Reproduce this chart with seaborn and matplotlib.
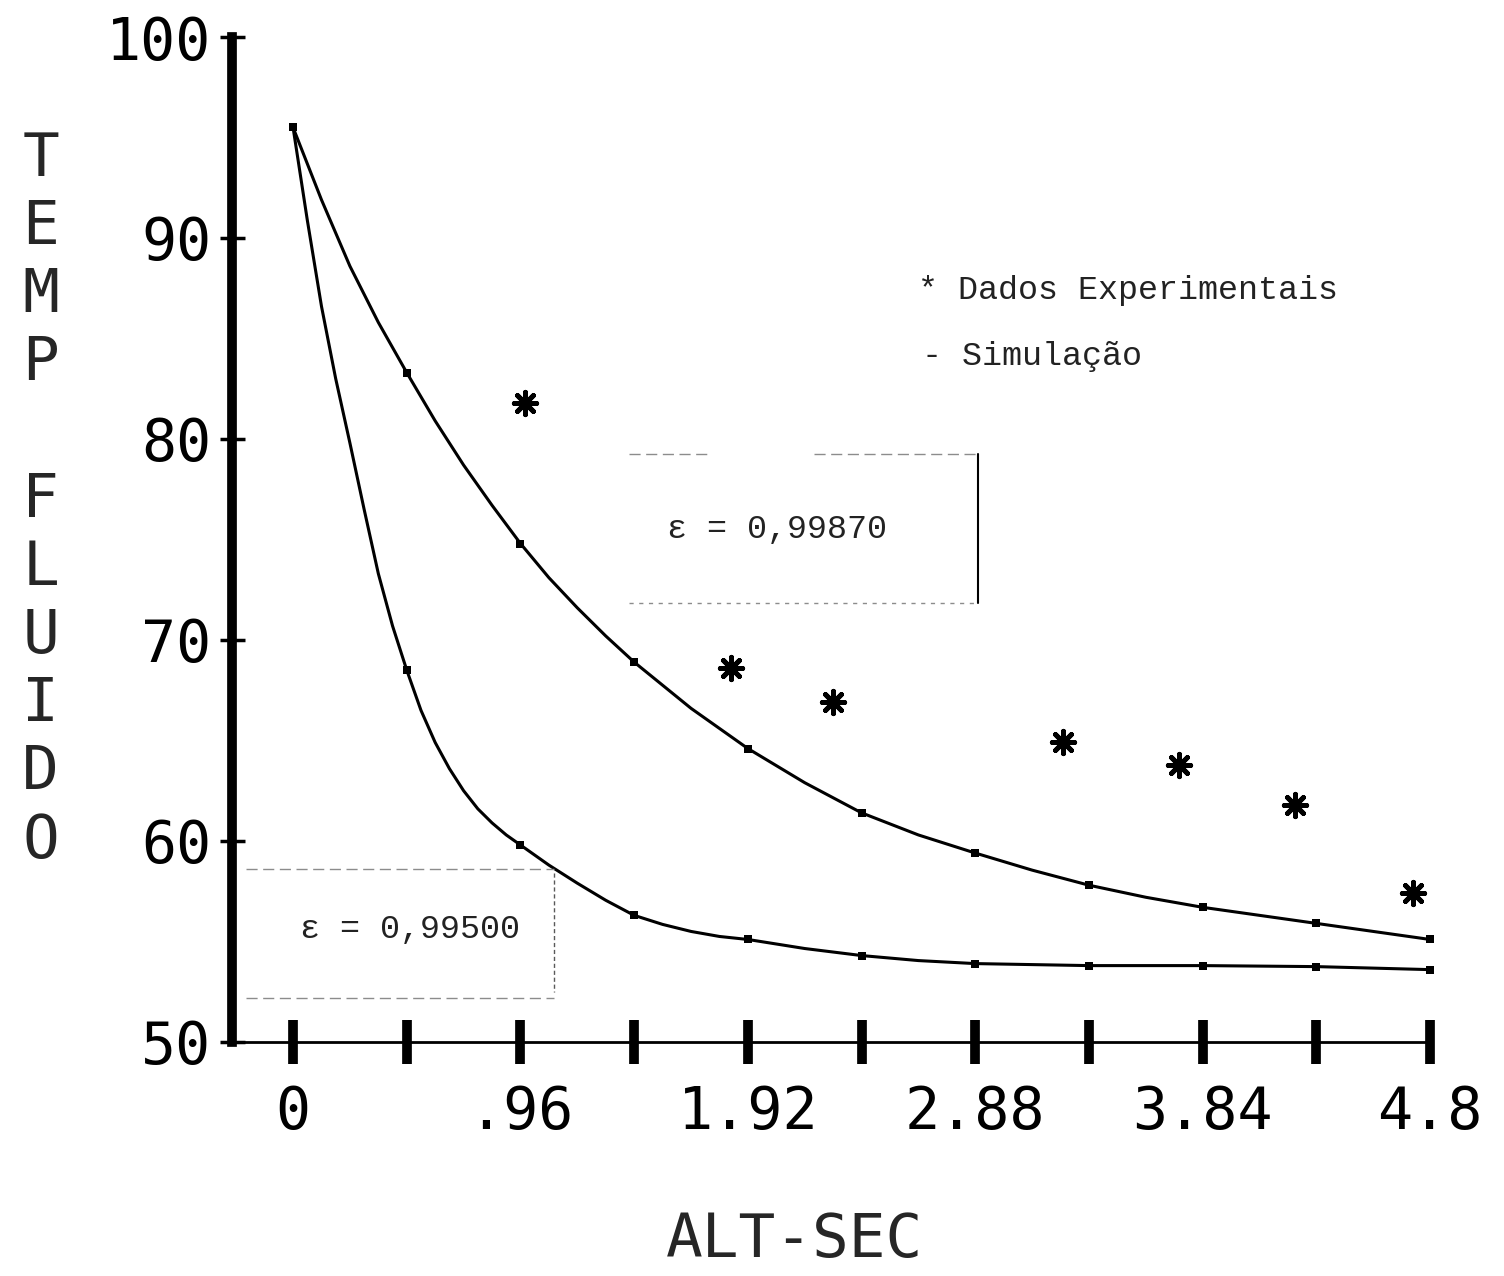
import numpy as np
import pandas as pd
import seaborn as sns
import matplotlib.pyplot as plt

# pontos marcados das simulações (a cada 0.48 de ALT-SEC)
sim_x = [0, 0.48, 0.96, 1.44, 1.92, 2.40, 2.88, 3.36, 3.84, 4.32, 4.80]
sim_99870 = [95.5, 83.3, 74.8, 68.9, 64.6, 61.4, 59.4, 57.8, 56.7, 55.9, 55.1]
sim_99500 = [95.5, 68.5, 59.8, 56.3, 55.1, 54.3, 53.9, 53.8, 53.8, 53.75, 53.6]

# traçado das curvas (com pontos intermediários)
curva_99870_x = [0, 0.12, 0.24, 0.36, 0.48, 0.60, 0.72, 0.84, 0.96, 1.08, 1.20,
                 1.32, 1.44, 1.68, 1.92, 2.16, 2.40, 2.64, 2.88, 3.12, 3.36,
                 3.60, 3.84, 4.08, 4.32, 4.56, 4.80]
curva_99870_y = [95.5, 91.9, 88.6, 85.8, 83.3, 80.9, 78.7, 76.7, 74.8, 73.1, 71.6,
                 70.2, 68.9, 66.6, 64.6, 62.9, 61.4, 60.3, 59.4, 58.55, 57.8,
                 57.2, 56.7, 56.3, 55.9, 55.5, 55.1]
curva_99500_x = [0, 0.06, 0.12, 0.18, 0.24, 0.30, 0.36, 0.42, 0.48, 0.54, 0.60,
                 0.66, 0.72, 0.78, 0.84, 0.90, 0.96, 1.08, 1.20, 1.32, 1.44,
                 1.56, 1.68, 1.80, 1.92, 2.16, 2.40, 2.64, 2.88, 3.36, 3.84,
                 4.32, 4.80]
curva_99500_y = [95.5, 90.9, 86.6, 83.0, 79.8, 76.5, 73.3, 70.7, 68.5, 66.5, 64.9,
                 63.6, 62.5, 61.6, 60.9, 60.3, 59.8, 58.8, 57.9, 57.05, 56.3,
                 55.85, 55.5, 55.25, 55.1, 54.65, 54.3, 54.05, 53.9, 53.8, 53.8,
                 53.75, 53.6]

# dados experimentais
exp_x = [0.98, 1.85, 2.28, 3.25, 3.74, 4.23, 4.73]
exp_y = [81.8, 68.6, 66.9, 64.9, 63.8, 61.8, 57.4]

x_ticks = [0, 0.48, 0.96, 1.44, 1.92, 2.40, 2.88, 3.36, 3.84, 4.32, 4.80]
x_labels = ['0', '', '.96', '', '1.92', '', '2.88', '', '3.84', '', '4.8']
y_ticks = [50, 60, 70, 80, 90, 100]

sns.set_style("white")
plt.rcParams['font.family'] = ['DejaVu Sans Mono', 'DejaVu Sans']

fig = plt.figure(figsize=(15.04, 12.76), dpi=100)
ax = fig.add_axes([0.1543, 0.1834, 0.7979, 0.7876])

# curvas de simulação
for cx, cy in [(curva_99870_x, curva_99870_y), (curva_99500_x, curva_99500_y)]:
    sns.lineplot(x=cx, y=cy, ax=ax, color='black', linewidth=2.2,
                 estimator=None, sort=False)
for sy in [sim_99870, sim_99500]:
    sns.scatterplot(x=sim_x, y=sy, ax=ax, color='black', marker='s', s=28,
                    linewidth=0, clip_on=False)

# dados experimentais (asteriscos)
sns.scatterplot(x=exp_x, y=exp_y, ax=ax, color='black', marker=(8, 2, 0),
                s=260, linewidth=3.5)

ax.set_xlim(-0.2575, 4.8086)
ax.set_ylim(50, 100)

ax.set_xticks(x_ticks)
ax.set_xticklabels(x_labels)
ax.set_yticks(y_ticks)
ax.tick_params(axis='x', bottom=True, direction='inout', length=32, width=7,
               pad=14, labelsize=42, colors='black')
ax.tick_params(axis='y', left=True, direction='inout', length=18, width=2.5,
               pad=6, labelsize=42, colors='black')

for s in ['top', 'right']:
    ax.spines[s].set_visible(False)
ax.spines['left'].set_linewidth(7)
ax.spines['left'].set_color('black')
ax.spines['bottom'].set_linewidth(2)
ax.spines['bottom'].set_color('black')
ax.grid(False)

# rótulos dos eixos
fig.text(0.027, 0.608, "T\nE\nM\nP\n \nF\nL\nU\nI\nD\nO", ha='center', va='center',
         fontsize=44, linespacing=1.2)
fig.text(0.5286, 0.028, 'ALT-SEC', ha='center', va='center', fontsize=44)

# legenda
txt = dict(family=['Liberation Mono', 'DejaVu Sans Mono'], fontsize=24, color='#222222')
ax.text(2.64, 87.4, '* Dados Experimentais', va='center', **txt)
ax.text(2.655, 84.1, '- Simulação', va='center', **txt)

# caixas com os valores de epsilon
ax.plot([1.42, 1.75], [79.25, 79.25], color='0.55', lw=1, ls=(0, (8, 4)))
ax.plot([2.2, 2.89], [79.25, 79.25], color='0.55', lw=1, ls=(0, (8, 4)))
ax.plot([1.42, 2.89], [71.85, 71.85], color='0.55', lw=1, ls=(0, (3, 4)))
ax.plot([2.89, 2.89], [79.25, 71.85], color='black', lw=1.5)
ax.text(1.58, 75.5, 'ε = 0,99870', va='center', **txt)

ax.plot([-0.2, 1.10], [58.6, 58.6], color='0.55', lw=1, ls=(0, (8, 4)))
ax.plot([-0.2, 1.10], [52.2, 52.2], color='0.55', lw=1, ls=(0, (8, 4)))
ax.plot([1.10, 1.10], [58.4, 52.5], color='0.35', lw=1, ls=(0, (3, 2)))
ax.text(0.03, 55.6, 'ε = 0,99500', va='center', **txt)

fig.savefig('out.png', dpi=100)
plt.close(fig)
